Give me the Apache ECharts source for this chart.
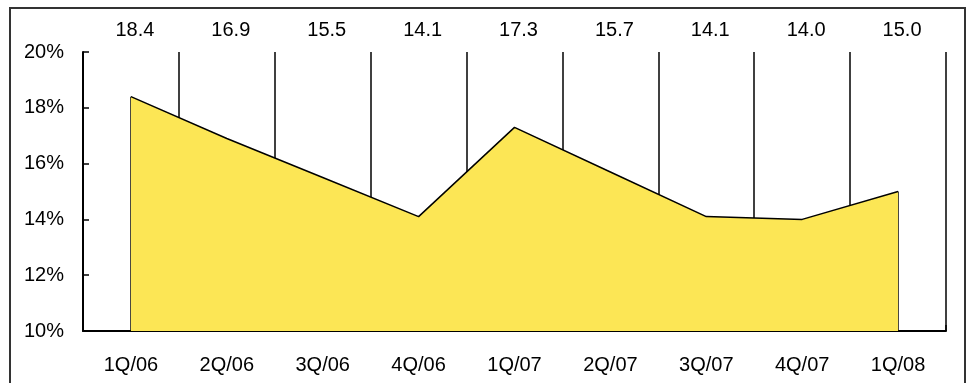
<!DOCTYPE html>
<html>
<head>
<meta charset="utf-8">
<script src="https://cdn.jsdelivr.net/npm/echarts@6/dist/echarts.min.js"></script>
<style>
html,body{margin:0;padding:0;background:#fff;}
#main{width:970px;height:383px;}
</style>
</head>
<body>
<div id="main"></div>
<script>
// 季度
var quarters = ['1Q/06', '2Q/06', '3Q/06', '4Q/06', '1Q/07', '2Q/07', '3Q/07', '4Q/07', '1Q/08'];
// 数值 (%)
var values = [18.4, 16.9, 15.5, 14.1, 17.3, 15.7, 14.1, 14.0, 15.0];
// 顶部标签
var topLabels = ['18.4', '16.9', '15.5', '14.1', '17.3', '15.7', '14.1', '14.0', '15.0'];
var yMin = 10, yMax = 20, yStep = 2;

var chart = echarts.init(document.getElementById('main'));
var txt = {color: '#000', fontSize: 20, fontFamily: 'Liberation Sans, Arial, sans-serif'};

chart.setOption({
    animation: false,
    backgroundColor: '#fff',
    graphic: [{
        type: 'rect',
        shape: {x: 10, y: 8, width: 955, height: 420},
        style: {fill: 'none', stroke: '#333', lineWidth: 2},
        silent: true,
        z: 100
    }],
    grid: {left: 83, right: 24, top: 52, bottom: 52},
    xAxis: [{
        type: 'category',
        data: quarters,
        boundaryGap: true,
        position: 'bottom',
        axisLine: {lineStyle: {color: '#000', width: 2}},
        axisTick: {show: true, inside: true, length: 6, interval: 0, lineStyle: {color: '#000', width: 1.5}},
        axisLabel: Object.assign({margin: 24, interval: 0}, txt),
        splitLine: {show: true, interval: 0, lineStyle: {color: '#000', width: 1.5}}
    }, {
        type: 'category',
        data: topLabels,
        position: 'top',
        boundaryGap: true,
        axisLine: {show: false},
        axisTick: {show: false},
        axisLabel: Object.assign({margin: 12, interval: 0, padding: [0, 0, 0, 8]}, txt),
        splitLine: {show: false}
    }],
    yAxis: {
        type: 'value',
        min: yMin,
        max: yMax,
        interval: yStep,
        axisLine: {show: true, lineStyle: {color: '#000', width: 2}},
        axisTick: {show: true, inside: true, length: 6, lineStyle: {color: '#000', width: 1.5}},
        axisLabel: Object.assign({margin: 19, formatter: '{value}%'}, txt),
        splitLine: {show: false}
    },
    series: [{
        type: 'line',
        data: values,
        symbol: 'none',
        z: 5,
        lineStyle: {color: '#000', width: 1.5},
        areaStyle: {color: '#FCE655', opacity: 1, origin: 'start'},
        markLine: {
            silent: true,
            symbol: 'none',
            label: {show: false},
            lineStyle: {color: '#000', width: 1.5, type: 'solid'},
            data: [
                [{coord: [quarters[0], yMin]}, {coord: [quarters[0], values[0]]}],
                [{coord: [quarters[quarters.length - 1], yMin]}, {coord: [quarters[quarters.length - 1], values[values.length - 1]]}]
            ]
        }
    }]
});
</script>
</body>
</html>
